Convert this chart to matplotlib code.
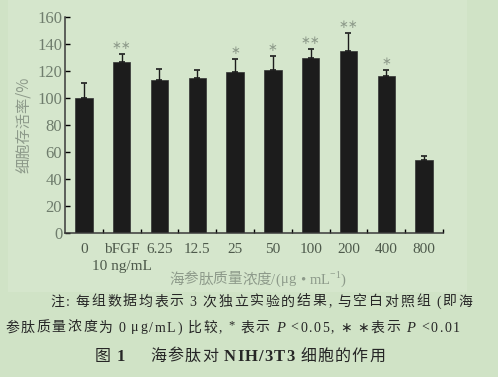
import numpy as np
import matplotlib.pyplot as plt
from matplotlib.patches import Rectangle
from matplotlib.transforms import IdentityTransform

plt.rcParams['font.family'] = ['Liberation Serif', 'Noto Sans CJK SC', 'DejaVu Sans']

# data
groups = ['0', 'bFGF', '6.25', '12.5', '25', '50', '100', '200', '400', '800']
sub_labels = ['', '10 ng/mL', '', '', '', '', '', '', '', '']
viability = [100, 126.5, 113, 115, 119.5, 121, 129.5, 134.5, 116.5, 54]
err_up = [11, 6, 8.5, 5.5, 9, 10, 6.5, 13.5, 4.5, 3]
signif = ['', '**', '', '', '*', '*', '**', '**', '*', '']

bg = '#d0e3c6'
panel = '#d5e6cc'
grey = '#8d9a8a'
ink = '#262626'
W, H = 498, 377

fig = plt.figure(figsize=(W / 100, H / 100), dpi=100, facecolor=bg)
# slightly lighter panel behind the chart
fig.patches.append(Rectangle((8, H - 292), 459, 292, transform=IdentityTransform(),
                             facecolor=panel, edgecolor='none', zorder=-5))

ax = fig.add_axes([0.1305, 0.382, 0.759, 0.573])
ax.set_facecolor('none')
ax.set_zorder(2)

x = np.arange(len(groups))
ax.bar(x, viability, width=0.46, color='#1c1c1c', edgecolor='#333333', linewidth=0.5, zorder=2)
ax.errorbar(x, viability, yerr=[np.zeros(len(x)), err_up], fmt='none',
            ecolor='#1c1c1c', elinewidth=1.0, capsize=2.5, capthick=1.2, zorder=3)

# significance marks
for xi, v, e, s in zip(x, viability, err_up, signif):
    if s:
        ax.text(xi, v + e + 1.5, s.replace('*', '∗'), ha='center', va='bottom',
                fontsize=8.5, color=grey, family=['DejaVu Sans'])

ax.set_xlim(-0.5, 9.5)
ax.set_ylim(0, 160)
ax.set_yticks(np.arange(0, 161, 20))
ax.tick_params(axis='y', direction='in', length=3.5, width=1, labelsize=12,
               labelcolor='#6f7d6d', pad=2)
ax.set_xticks(np.arange(0.5, 10, 1))
ax.set_xticklabels([])
ax.tick_params(axis='x', which='major', direction='in', length=3, width=1)
ax.set_xticks(x, groups, minor=True)
ax.tick_params(axis='x', which='minor', length=0, labelsize=11,
               labelcolor='#4e5a4c', pad=7)
for xi, s in zip(x, sub_labels):
    if s:
        ax.annotate(s, (xi, 0), xytext=(0, -19.5), textcoords='offset points',
                    ha='center', va='top', fontsize=11, color='#4e5a4c',
                    annotation_clip=False)

for side in ['top', 'right']:
    ax.spines[side].set_visible(False)
for side in ['left', 'bottom']:
    ax.spines[side].set_linewidth(1.1)
    ax.spines[side].set_color('#3a3a3a')

ax.set_ylabel('细胞存活率/%', fontsize=11, color=grey, labelpad=4,
              family=['Noto Sans CJK SC', 'DejaVu Sans'])

renderer = fig.canvas.get_renderer()


def text_line(x0, ytop, runs, x1=None, center=None):
    """lay out runs of (string, props) char by char in pixel coords (y from top)"""
    items = []
    xpos = 0.0
    for s, props in runs:
        props = dict(props)
        dy = props.pop('dy', 0)
        fs = props.get('fontsize', 10)
        for ch in s:
            if ch == ' ':
                xpos += fs * 100 / 72 * 0.3
                continue
            t = fig.text(xpos, H - ytop + dy, ch, transform=IdentityTransform(),
                         ha='left', va='center', **props)
            w = t.get_window_extent(renderer=renderer).width
            items.append((t, xpos, w))
            xpos += w
    natural = xpos
    track = 0.0
    if x1 is not None and len(items) > 1:
        track = (x1 - x0 - natural) / (len(items) - 1)
    start = x0
    if center is not None:
        start = center - natural / 2
    for i, (t, px, w) in enumerate(items):
        t.set_x(start + px + i * track)


note = dict(fontsize=10, color=ink)
text_line(50, 302, [('注: 每组数据均表示 3 次独立实验的结果, 与空白对照组 (即海', note)], x1=472)
text_line(5, 328, [('参肽质量浓度为 0 μg/mL) 比较, ', note),
                   ('*', dict(fontsize=9, color=ink, dy=3)),
                   (' 表示 ', note),
                   ('P', dict(fontsize=10.5, color=ink, style='italic')),
                   (' <0.05, ', note),
                   ('∗ ∗', dict(fontsize=10, color=ink, family=['DejaVu Sans'])),
                   ('表示 ', note),
                   ('P', dict(fontsize=10.5, color=ink, style='italic')),
                   (' <0.01', note)], x1=460)

cap = dict(fontsize=11.5, color=ink)
capb = dict(fontsize=12, color=ink, fontweight='bold')
text_line(95, 357, [('图 ', cap), ('1', capb), ('     海参肽对 ', cap), ('NIH/3T3', capb),
                    (' 细胞的作用', cap)], x1=385)

xl = dict(fontsize=10.5, color=grey)
text_line(0, 280, [('海参肽质量浓度/(μg • mL', xl),
                   ('−1', dict(fontsize=7, color=grey, dy=5)),
                   (')', xl)], center=257)

fig.savefig('out.png', dpi=100, facecolor=bg)
